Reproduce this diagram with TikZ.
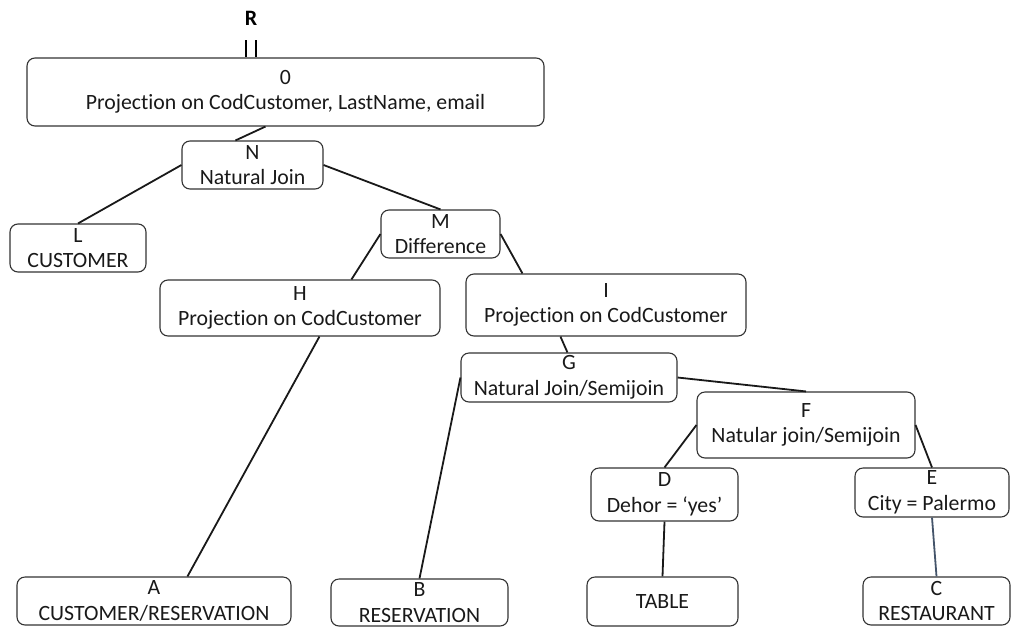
\documentclass[tikz,border=0pt]{standalone}
\usepackage{fontspec}
\setmainfont{Carlito}[Ligatures=NoCommon]
\begin{document}
\begin{tikzpicture}[x=1pt,y=-1pt,
  box/.style={draw=black!80, line width=1.1pt, rounded corners=8pt, inner sep=0pt,
    align=center, font=\fontsize{21.8}{25.5}\selectfont, text=black!90},
  link/.style={line width=1.8pt, black!90}]
\useasboundingbox (0,0) rectangle (1016,640);
% nodes (center x, center y, width, height)
\node[font=\fontsize{22}{24}\selectfont\bfseries] (R) at (251,18) {R};
\node[box, minimum width=517pt, minimum height=68pt] (zero) at (285.5,92) {0\\Projection on CodCustomer, LastName, email};
\node[box, minimum width=141pt, minimum height=48pt] (N) at (252.5,165) {N\\Natural Join};
\node[box, minimum width=136pt, minimum height=48pt] (L) at (78,248) {L\\CUSTOMER};
\node[box, minimum width=119pt, minimum height=48pt] (M) at (440.5,234) {M\\Difference};
\node[box, minimum width=280pt, minimum height=56pt] (H) at (300,308) {H\\Projection on CodCustomer};
\node[box, minimum width=280pt, minimum height=62pt] (I) at (606,305) {I\\Projection on CodCustomer};
\node[box, minimum width=216pt, minimum height=49pt] (G) at (569,377.5) {G\\Natural Join/Semijoin};
\node[box, minimum width=218pt, minimum height=66pt] (F) at (806,425) {F\\Natular join/Semijoin};
\node[box, minimum width=147pt, minimum height=53pt] (D) at (664.5,494.5) {D\\Dehor = ‘yes’};
\node[box, minimum width=154pt, minimum height=49pt] (E) at (932,492.5) {E\\City = Palermo};
\node[box, minimum width=274pt, minimum height=48pt] (A) at (154,601) {A\\CUSTOMER/RESERVATION};
\node[box, minimum width=177pt, minimum height=47pt] (B) at (419.5,602.5) {B\\RESERVATION};
\node[box, minimum width=151pt, minimum height=49pt] (T) at (662.5,601.5) {TABLE};
\node[box, minimum width=147pt, minimum height=48pt] (C) at (936.5,601) {C\\RESTAURANT};
% R double line
\coordinate (r1) at (246,40);
\coordinate (r2) at (256,40);
\draw[line width=1.8pt] (r1) -- (r1 |- zero.north);
\draw[line width=1.8pt] (r2) -- (r2 |- zero.north);
% connectors
\draw[link] ([xshift=239pt]zero.south west) -- ([xshift=54pt]N.north west);
\draw[link] (N.west) -- (L.north);
\draw[link] (N.east) -- (M.north);
\draw[link] (M.west) -- ([xshift=192pt]H.north west);
\draw[link] (M.east) -- ([xshift=57pt]I.north west);
\draw[link] ([xshift=160pt]H.south west) -- ([xshift=171pt]A.north west);
\draw[link] ([xshift=95pt]I.south west) -- ([xshift=107pt]G.north west);
\draw[link] (G.west) -- (B.north);
\draw[link] (G.east) -- (F.north);
\draw[link] (F.west) -- (D.north);
\draw[link] (F.east) -- (E.north);
\draw[link] (D.south) -- (T.north);
\draw[line width=1.8pt, color={rgb,255:red,68;green,84;blue,106}] (E.south) -- (C.north);
\end{tikzpicture}
\end{document}
